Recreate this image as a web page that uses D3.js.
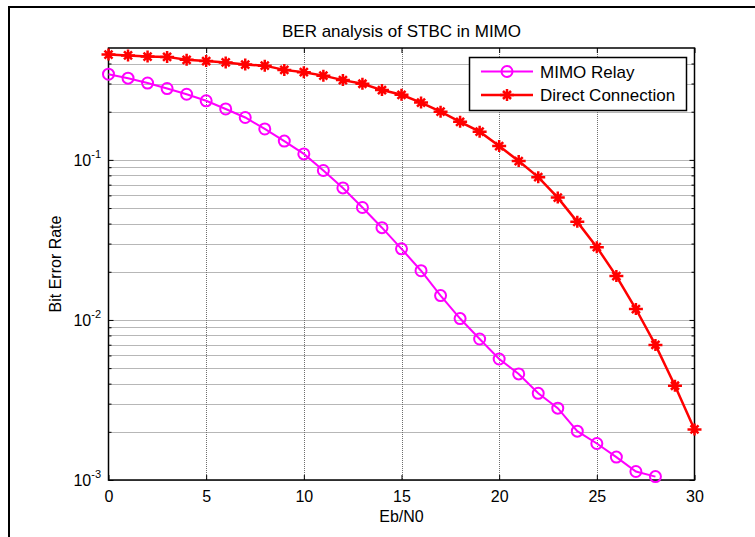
<!DOCTYPE html>
<html>
<head>
<meta charset="utf-8">
<script src="https://cdn.jsdelivr.net/npm/d3@7"></script>
<style>
  body { margin: 0; background: #fff; }
  svg { display: block; font-family: Arial, "Liberation Sans", sans-serif; }
</style>
</head>
<body>
<svg width="755" height="537"></svg>
<script>
// data
const snrRelay = [0,1,2,3,4,5,6,7,8,9,10,11,12,13,14,15,16,17,18,19,20,21,22,23,24,25,26,27,28];
const berRelay = [0.343,0.324,0.302,0.279,0.257,0.234,0.208,0.184,0.156,0.131,0.109,0.0858,0.0668,0.0504,0.0377,0.0278,0.0203,0.0142,0.0102,0.0076,0.0057,0.0046,0.00348,0.00281,0.00202,0.00169,0.00139,0.00113,0.00105];
const snrDirect = [0,1,2,3,4,5,6,7,8,9,10,11,12,13,14,15,16,17,18,19,20,21,22,23,24,25,26,27,28,29,30];
const berDirect = [0.455,0.449,0.442,0.440,0.422,0.414,0.406,0.394,0.388,0.365,0.353,0.336,0.315,0.299,0.273,0.255,0.228,0.200,0.173,0.150,0.122,0.0983,0.078,0.0581,0.041,0.0285,0.0188,0.0117,0.00698,0.00388,0.00207];
const xTicks = [0,5,10,15,20,25,30];
const yMajor = [0.001,0.01,0.1];
const yExp = ["-3","-2","-1"];
const yMinor = [0.002,0.003,0.004,0.005,0.006,0.007,0.008,0.009,0.02,0.03,0.04,0.05,0.06,0.07,0.08,0.09,0.2,0.3,0.4];
const seriesNames = ["MIMO Relay", "Direct Connection"];

const plot = {left: 108.5, right: 694.5, top: 48, bottom: 480};

const svg = d3.select("svg");

// outer figure frame (only top and left edges are visible)
svg.append("path")
  .attr("d", "M9,537V7H755")
  .attr("fill", "none")
  .attr("stroke", "#000")
  .attr("stroke-width", 2);

const x = d3.scaleLinear().domain([0, 30]).range([plot.left, plot.right]);
const y = d3.scaleLog().domain([0.001, 0.5]).range([plot.bottom, plot.top]);

// grid
const grid = svg.append("g")
  .attr("stroke", "#6e6e6e")
  .attr("stroke-width", 1)
  .attr("stroke-dasharray", "1,1");
grid.selectAll(".gx").data(xTicks.slice(1, -1)).enter().append("line")
  .attr("x1", d => Math.round(x(d)) + 0.5).attr("x2", d => Math.round(x(d)) + 0.5)
  .attr("y1", plot.top).attr("y2", plot.bottom);
grid.selectAll(".gy").data(yMajor.concat(yMinor)).enter().append("line")
  .attr("x1", plot.left).attr("x2", plot.right)
  .attr("y1", d => Math.round(y(d)) + 0.5).attr("y2", d => Math.round(y(d)) + 0.5);

// axes with inward ticks on all four sides
svg.append("g")
  .attr("transform", `translate(0,${plot.bottom})`)
  .call(d3.axisBottom(x).tickValues(xTicks).tickSizeInner(-5).tickSizeOuter(0).tickPadding(11))
  .call(g => g.select(".domain").remove())
  .call(g => g.selectAll("text").attr("font-size", "16px").attr("font-family", "Arial, 'Liberation Sans', sans-serif").attr("fill", "#000"));
svg.append("g")
  .attr("transform", `translate(0,${plot.top})`)
  .call(d3.axisTop(x).tickValues(xTicks).tickSizeInner(-5).tickSizeOuter(0).tickFormat(""))
  .call(g => g.select(".domain").remove());

svg.append("g")
  .attr("transform", `translate(${plot.left},0)`)
  .call(d3.axisLeft(y).tickValues(yMajor).tickSizeInner(-5).tickSizeOuter(0).tickFormat(""))
  .call(g => g.select(".domain").remove());
svg.append("g")
  .attr("transform", `translate(${plot.left},0)`)
  .call(d3.axisLeft(y).tickValues(yMinor).tickSizeInner(-3).tickSizeOuter(0).tickFormat(""))
  .call(g => g.select(".domain").remove());
svg.append("g")
  .attr("transform", `translate(${plot.right},0)`)
  .call(d3.axisRight(y).tickValues(yMajor).tickSizeInner(-5).tickSizeOuter(0).tickFormat(""))
  .call(g => g.select(".domain").remove());
svg.append("g")
  .attr("transform", `translate(${plot.right},0)`)
  .call(d3.axisRight(y).tickValues(yMinor).tickSizeInner(-3).tickSizeOuter(0).tickFormat(""))
  .call(g => g.select(".domain").remove());

// y tick labels as 10^n
const yLab = svg.append("g").attr("font-size", "16px").attr("text-anchor", "end");
yMajor.forEach((v, i) => {
  const t = yLab.append("text")
    .attr("x", 101)
    .attr("y", Math.round(y(v)) + 6);
  t.append("tspan").text("10");
  t.append("tspan").attr("dy", -8).attr("font-size", "11px").text(yExp[i]);
});

// plot box
svg.append("rect")
  .attr("x", plot.left).attr("y", plot.top)
  .attr("width", plot.right - plot.left).attr("height", plot.bottom - plot.top)
  .attr("fill", "none").attr("stroke", "#000").attr("stroke-width", 1.5);

// lines
const relayData = snrRelay.map((s, i) => ({snr: s, ber: berRelay[i]}));
const directData = snrDirect.map((s, i) => ({snr: s, ber: berDirect[i]}));
const line = d3.line().x(d => x(d.snr)).y(d => y(d.ber));

const starPath = "M-7,0H7M0,-6V6M-4,-4L4,4M-4,4L4,-4";

svg.append("path").datum(directData)
  .attr("d", line)
  .attr("fill", "none").attr("stroke", "#ff0000").attr("stroke-width", 2.5);
svg.selectAll(".star").data(directData).enter().append("path")
  .attr("transform", d => `translate(${x(d.snr)},${y(d.ber)})`)
  .attr("d", starPath)
  .attr("stroke", "#ff0000").attr("stroke-width", 2.5).attr("fill", "none");

svg.append("path").datum(relayData)
  .attr("d", line)
  .attr("fill", "none").attr("stroke", "#ff00ff").attr("stroke-width", 2);
svg.selectAll(".circ").data(relayData).enter().append("circle")
  .attr("cx", d => x(d.snr)).attr("cy", d => y(d.ber))
  .attr("r", 5.5)
  .attr("fill", "none").attr("stroke", "#ff00ff").attr("stroke-width", 2);

// labels
svg.append("text")
  .attr("x", (plot.left + plot.right) / 2).attr("y", 37)
  .attr("text-anchor", "middle").attr("font-size", "17px")
  .text("BER analysis of STBC in MIMO");
svg.append("text")
  .attr("x", (plot.left + plot.right) / 2).attr("y", 522)
  .attr("text-anchor", "middle").attr("font-size", "16px")
  .text("Eb/N0");
svg.append("text")
  .attr("transform", `translate(61,${(plot.top + plot.bottom) / 2}) rotate(-90)`)
  .attr("text-anchor", "middle").attr("font-size", "16px")
  .text("Bit Error Rate");

// legend
const legend = svg.append("g");
legend.append("rect")
  .attr("x", 469.5).attr("y", 57.5).attr("width", 217).attr("height", 53)
  .attr("fill", "#fff").attr("stroke", "#000").attr("stroke-width", 1.5);
const rowY = [71.5, 95];
legend.append("line").attr("x1", 481).attr("x2", 533).attr("y1", rowY[0]).attr("y2", rowY[0])
  .attr("stroke", "#ff00ff").attr("stroke-width", 2);
legend.append("circle").attr("cx", 507).attr("cy", rowY[0]).attr("r", 5.5)
  .attr("fill", "none").attr("stroke", "#ff00ff").attr("stroke-width", 2);
legend.append("line").attr("x1", 481).attr("x2", 533).attr("y1", rowY[1]).attr("y2", rowY[1])
  .attr("stroke", "#ff0000").attr("stroke-width", 2.5);
legend.append("path").attr("transform", `translate(507,${rowY[1]})`).attr("d", starPath)
  .attr("stroke", "#ff0000").attr("stroke-width", 2.5).attr("fill", "none");
legend.selectAll(".ltxt").data(seriesNames).enter().append("text")
  .attr("x", 540).attr("y", (d, i) => rowY[i] + 6)
  .attr("font-size", "17px")
  .text(d => d);
</script>
</body>
</html>
